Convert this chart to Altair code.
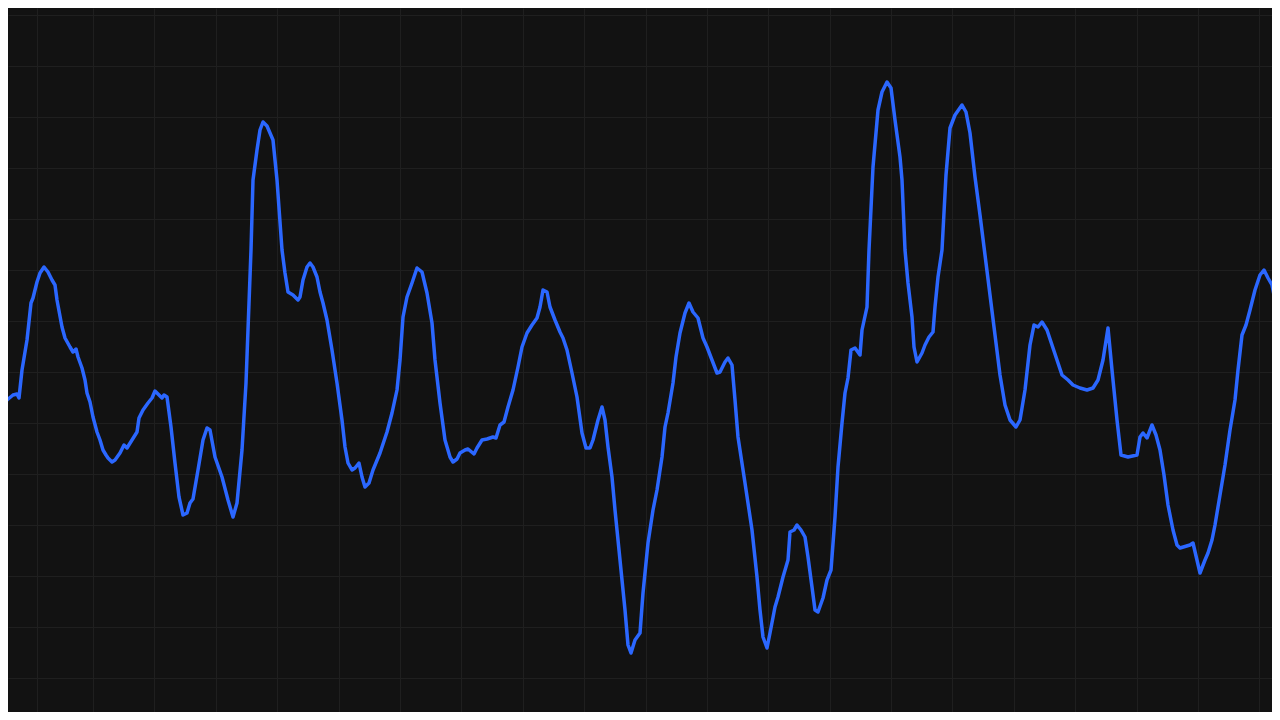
import altair as alt
import pandas as pd

# time index (sample position) and signal level
t = [0, 3, 7, 13, 17, 19, 22, 27, 31, 33, 37, 40, 44, 48, 52, 55, 57, 62, 65, 70,
     73, 76, 78, 82, 85, 87, 90, 93, 97, 100, 103, 106, 108, 112, 115, 120, 124, 127, 132, 137,
     139, 143, 148, 152, 155, 158, 162, 164, 167, 171, 175, 179, 183, 187, 190, 193, 198, 203, 207, 210,
     215, 222, 228, 233, 237, 242, 246, 251, 253, 257, 260, 263, 267, 270, 273, 277, 282, 285, 288, 293,
     298, 300, 303, 307, 310, 313, 317, 320, 323, 327, 332, 337, 342, 345, 348, 352, 355, 359, 362, 365,
     369, 373, 380, 387, 392, 397, 400, 403, 407, 412, 417, 422, 427, 432, 435, 440, 445, 450, 453, 457,
     460, 465, 468, 474, 477, 482, 487, 493, 496, 500, 504, 508, 513, 518, 522, 527, 532, 537, 540, 543,
     547, 550, 555, 560, 563, 567, 572, 577, 582, 586, 590, 593, 598, 602, 605, 608, 612, 615, 617, 620,
     625, 628, 631, 635, 640, 643, 648, 653, 657, 662, 665, 668, 673, 676, 680, 685, 689, 693, 698, 703,
     707, 712, 717, 720, 725, 728, 732, 735, 738, 745, 752, 757, 760, 763, 767, 770, 775, 778, 783, 788,
     790, 794, 797, 801, 805, 808, 812, 815, 818, 823, 827, 831, 835, 838, 842, 845, 848, 851, 855, 860,
     862, 867, 869, 873, 878, 882, 887, 891, 895, 900, 902, 905, 908, 912, 914, 917, 922, 925, 929, 933,
     935, 938, 942, 946, 950, 955, 962, 966, 970, 975, 980, 985, 990, 995, 1000, 1005, 1010, 1016, 1020, 1025,
     1030, 1034, 1038, 1042, 1047, 1052, 1057, 1062, 1068, 1073, 1080, 1087, 1093, 1098, 1103, 1108, 1112, 1117, 1121, 1128,
     1137, 1140, 1143, 1147, 1152, 1156, 1160, 1164, 1168, 1173, 1177, 1180, 1190, 1193, 1200, 1205, 1208, 1212, 1215, 1220,
     1225, 1230, 1235, 1238, 1242, 1246, 1250, 1255, 1260, 1264, 1268, 1272, 1275, 1280]

level = [-32, -35, -28, -23, -22, -26, 2, 32, 69, 74, 90, 99, 105, 100, 92, 87, 72, 45, 34, 25,
         20, 23, 15, 4, -8, -21, -30, -45, -60, -68, -78, -83, -86, -90, -88, -81, -73, -76, -68, -60,
         -46, -38, -31, -26, -19, -22, -26, -23, -25, -55, -91, -125, -143, -141, -131, -127, -98, -68, -56, -58,
         -85, -105, -128, -145, -131, -78, -11, 122, 192, 222, 242, 250, 246, 239, 232, 192, 122, 99, 80, 77,
         72, 75, 92, 105, 109, 105, 95, 80, 69, 52, 22, -11, -48, -75, -91, -98, -96, -91, -105, -115,
         -111, -98, -81, -60, -41, -18, 12, 55, 75, 89, 104, 100, 79, 49, 12, -31, -68, -85, -90, -87,
         -81, -78, -77, -82, -76, -68, -67, -65, -66, -53, -50, -35, -18, 5, 25, 39, 47, 54, 65, 82,
         80, 65, 52, 40, 34, 22, -1, -25, -61, -76, -76, -68, -48, -35, -48, -75, -105, -138, -158, -188,
         -238, -273, -281, -268, -261, -221, -171, -138, -118, -85, -55, -41, -11, 15, 39, 59, 69, 60, 54, 34,
         25, 12, -1, 0, 10, 14, 7, -28, -65, -111, -158, -205, -238, -265, -276, -261, -235, -225, -205, -188,
         -160, -158, -153, -158, -165, -185, -215, -238, -240, -226, -208, -198, -145, -95, -51, -21, -6, 22, 24, 17,
         42, 65, 122, 205, 262, 280, 290, 284, 252, 215, 192, 122, 89, 55, 25, 10, 19, 27, 35, 40,
         65, 95, 122, 197, 244, 257, 267, 260, 239, 195, 157, 117, 77, 37, -3, -33, -48, -55, -48, -18,
         27, 47, 45, 50, 42, 27, 12, -3, -8, -13, -16, -18, -16, -8, 12, 44, 2, -48, -83, -85,
         -83, -65, -61, -66, -53, -63, -78, -103, -133, -158, -173, -176, -173, -171, -201, -188, -181, -168, -153, -123,
         -93, -58, -28, 2, 37, 47, 62, 82, 97, 102, 94, 87, 72, 42]

# grid positions
x_grid = [37, 93, 154, 216, 277, 339, 400, 461, 523, 584, 646, 707, 768, 830, 891, 952,
          1014, 1075, 1137, 1198, 1259]
y_grid = [357, 306, 255, 204, 153, 102, 51, 0, -51, -102, -153, -204, -255, -306]

df = pd.DataFrame({"t": t, "level": level})

grid_color = "#1f1f1f"

chart = (
    alt.Chart(df)
    .mark_line(color="#2B67FF", strokeWidth=3.5, clip=True, strokeJoin="round", strokeCap="round")
    .encode(
        x=alt.X(
            "t:Q",
            scale=alt.Scale(domain=[8, 1272], nice=False, zero=False),
            axis=alt.Axis(values=x_grid, labels=False, ticks=False, domain=False, title="",
                          grid=True, gridColor=grid_color, gridWidth=1),
        ),
        y=alt.Y(
            "level:Q",
            scale=alt.Scale(domain=[-340, 364], nice=False, zero=False),
            axis=alt.Axis(values=y_grid, labels=False, ticks=False, domain=False, title="",
                          grid=True, gridColor=grid_color, gridWidth=1),
        ),
    )
    .properties(
        width=1264,
        height=704,
        background="#121212",
        padding=0,
        autosize=alt.AutoSizeParams(type="none"),
    )
    .configure_view(strokeWidth=0)
)

chart.save("out.html", embed_options={"renderer": "svg", "actions": False})
